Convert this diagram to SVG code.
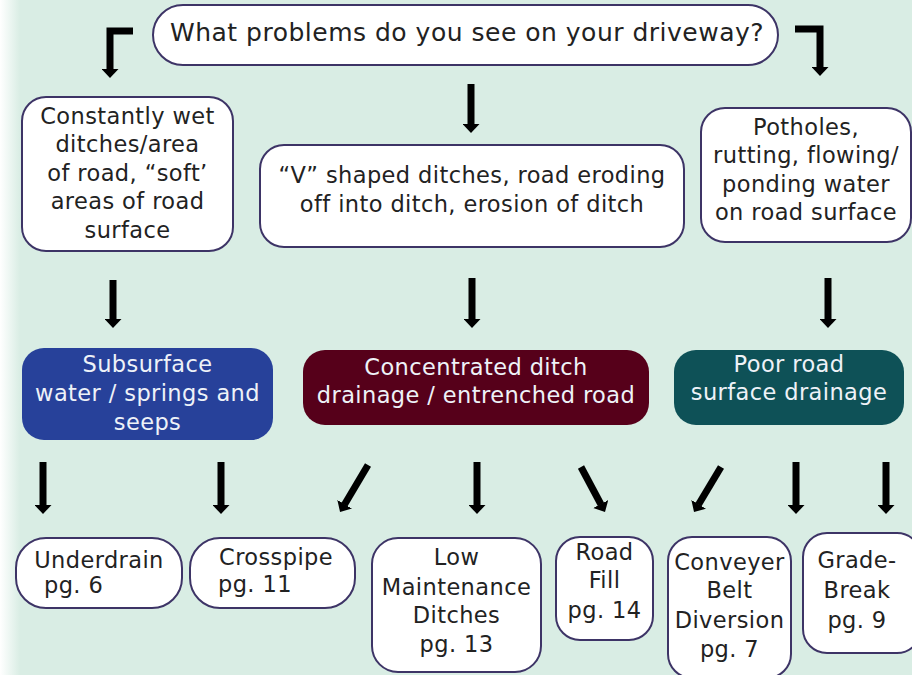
<svg xmlns="http://www.w3.org/2000/svg" width="912" height="675" viewBox="0 0 912 675">
<defs>
<linearGradient id="bg" x1="0" y1="0" x2="912" y2="0" gradientUnits="userSpaceOnUse">
<stop offset="0" stop-color="#ffffff"/>
<stop offset="0.022" stop-color="#d9ede4"/>
<stop offset="1" stop-color="#d9ede4"/>
</linearGradient>
<marker id="ah" markerUnits="userSpaceOnUse" markerWidth="9" markerHeight="17" viewBox="0 0 9 17" refX="0.5" refY="8.5" orient="auto">
<path d="M0,0 L9,8.5 L0,17 Z" fill="#000"/>
</marker>
<style>
.box{fill:#fff;stroke:#3d3466;stroke-width:2}
.t{font-family:"DejaVu Sans",Verdana,sans-serif;font-size:22.5px;letter-spacing:0.4px;fill:#222;text-anchor:middle}
.w{fill:#eef2f8}
.s{text-anchor:start}
.arr{fill:none;stroke:#000;stroke-width:7;marker-end:url(#ah)}
</style>
</defs>
<rect x="0" y="0" width="912" height="675" fill="url(#bg)"/>

<g id="connectors">
<path class="arr" d="M133,31 H110 V69.5"/>
<path class="arr" d="M795,29 H820 V67.5"/>
<path class="arr" d="M471,84 V124.5"/>
<path class="arr" d="M113,280 V319.5"/>
<path class="arr" d="M472,278 V319.5"/>
<path class="arr" d="M828,278 V319.5"/>
<path class="arr" d="M43,462 V505.5"/>
<path class="arr" d="M221,462 V505.5"/>
<path class="arr" d="M368,465 L344.4,504.7"/>
<path class="arr" d="M477,462 V505.5"/>
<path class="arr" d="M581,467 L601,504.5"/>
<path class="arr" d="M721,467 L698.4,504.7"/>
<path class="arr" d="M796,462 V505.5"/>
<path class="arr" d="M886,462 V505.5"/>
</g>

<g id="q">
<rect class="box" x="153" y="5" width="625" height="60" rx="30"/>
<text class="t" x="467" y="41" style="font-size:25px;letter-spacing:0.5px">What problems do you see on your driveway?</text>
</g>

<g id="wet">
<rect class="box" x="22" y="97" width="211" height="154" rx="24"/>
<text class="t" x="127.5" y="124">Constantly wet</text>
<text class="t" x="127.5" y="152">ditches/area</text>
<text class="t" x="127.5" y="181">of road, “soft’</text>
<text class="t" x="127.5" y="209">areas of road</text>
<text class="t" x="127.5" y="238">surface</text>
</g>

<g id="vshaped">
<rect class="box" x="260" y="145" width="424" height="102" rx="24"/>
<text class="t" x="472" y="183">“V” shaped ditches, road eroding</text>
<text class="t" x="472" y="212">off into ditch, erosion of ditch</text>
</g>

<g id="potholes">
<rect class="box" x="701" y="108" width="210" height="134" rx="24"/>
<text class="t" x="806" y="135">Potholes,</text>
<text class="t" x="806" y="163">rutting, flowing/</text>
<text class="t" x="806" y="192">ponding water</text>
<text class="t" x="806" y="220">on road surface</text>
</g>

<g id="subsurface">
<rect x="22" y="348" width="251" height="92" rx="22" fill="#27419a"/>
<text class="t w" x="147.5" y="372">Subsurface</text>
<text class="t w" x="147.5" y="401">water / springs and</text>
<text class="t w" x="147.5" y="430">seeps</text>
</g>

<g id="concentrated">
<rect x="303" y="350" width="346" height="75" rx="22" fill="#56001a"/>
<text class="t w" x="476" y="375">Concentrated ditch</text>
<text class="t w" x="476" y="403">drainage / entrenched road</text>
</g>

<g id="poorroad">
<rect x="674" y="350" width="230" height="75" rx="22" fill="#0e5157"/>
<text class="t w" x="789" y="372">Poor road</text>
<text class="t w" x="789" y="400">surface drainage</text>
</g>

<g id="underdrain">
<rect class="box" x="16" y="538" width="166" height="70" rx="30"/>
<text class="t" x="99" y="568">Underdrain</text>
<text class="t s" x="44" y="593">pg. 6</text>
</g>

<g id="crosspipe">
<rect class="box" x="190" y="538" width="165" height="70" rx="30"/>
<text class="t" x="276" y="565">Crosspipe</text>
<text class="t s" x="218" y="592">pg. 11</text>
</g>

<g id="lowmaint">
<rect class="box" x="372" y="538" width="169" height="134" rx="26"/>
<text class="t" x="456.5" y="565">Low</text>
<text class="t" x="456.5" y="595">Maintenance</text>
<text class="t" x="456.5" y="623">Ditches</text>
<text class="t" x="456.5" y="652">pg. 13</text>
</g>

<g id="roadfill">
<rect class="box" x="556" y="537" width="97" height="103" rx="24"/>
<text class="t" x="604.5" y="560">Road</text>
<text class="t" x="604.5" y="588">Fill</text>
<text class="t" x="604.5" y="618">pg. 14</text>
</g>

<g id="conveyer">
<rect class="box" x="668" y="537" width="123" height="141" rx="24"/>
<text class="t" x="729.5" y="570">Conveyer</text>
<text class="t" x="729.5" y="598">Belt</text>
<text class="t" x="729.5" y="628">Diversion</text>
<text class="t" x="729.5" y="657">pg. 7</text>
</g>

<g id="gradebreak">
<rect class="box" x="803" y="533" width="118" height="120" rx="24"/>
<text class="t" x="857" y="568">Grade-</text>
<text class="t" x="857" y="598">Break</text>
<text class="t" x="857" y="628">pg. 9</text>
</g>
</svg>
